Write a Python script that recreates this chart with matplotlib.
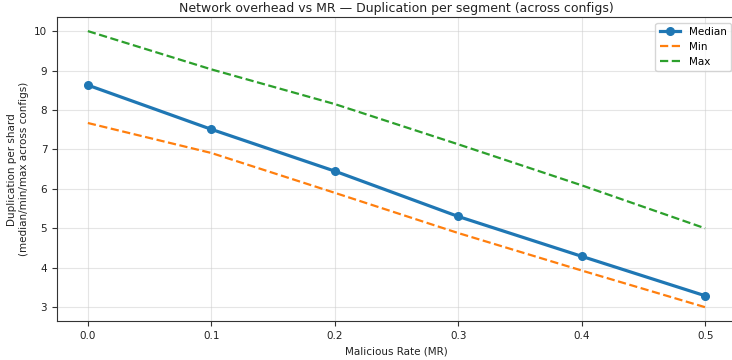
import matplotlib
matplotlib.use("Agg")
import matplotlib.pyplot as plt

mr = [0.0, 0.1, 0.2, 0.3, 0.4, 0.5]
median_vals = [8.63, 7.51, 6.45, 5.30, 4.29, 3.29]
min_vals = [7.67, 6.91, 5.90, 4.88, 3.93, 3.00]
max_vals = [10.0, 9.03, 8.15, 7.13, 6.09, 5.00]

fig = plt.figure(figsize=(7.32, 3.6), dpi=100)
ax = fig.add_axes([57/732, 1-321/360, (736-57)/732, (321-17.3)/360])

ax.plot(mr, median_vals, marker="o", linewidth=2.3, markersize=5.5, color="#1f77b4", label="Median")
ax.plot(mr, min_vals, linestyle="--", linewidth=1.6, color="#ff7f0e", label="Min")
ax.plot(mr, max_vals, linestyle="--", linewidth=1.6, color="#2ca02c", label="Max")

ax.grid(True, color="#cccccc", alpha=0.5, linewidth=0.8)
for s in ax.spines.values():
    s.set_color("#333333")
ax.tick_params(labelsize=7.5, color="#333333", labelcolor="#222222")
ax.set_title("Network overhead vs MR \u2014 Duplication per segment (across configs)", fontsize=9, pad=4, color="#222222")
ax.set_xlabel("Malicious Rate (MR)", fontsize=7.5, color="#222222")
ax.set_ylabel("Duplication per shard\n(median/min/max across configs)", fontsize=7.5, color="#222222")
ax.set_xticks(mr)
ax.legend(loc="upper right", fontsize=7.5)

fig.savefig("out.png", dpi=100)
